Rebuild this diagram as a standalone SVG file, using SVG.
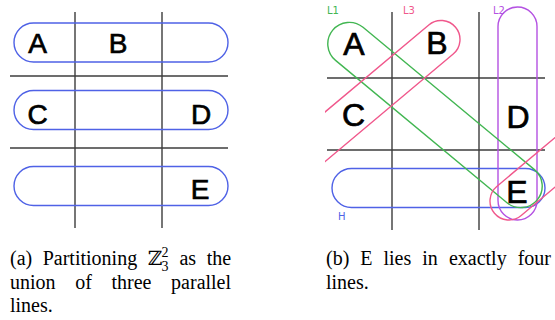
<svg xmlns="http://www.w3.org/2000/svg" width="555" height="320" viewBox="0 0 555 320">
  <style>
    .grid { stroke: #3c3c3c; stroke-width: 1.4; fill: none; }
    .pill { fill: none; stroke-width: 1.4; }
    .blue { stroke: #4f62e6; }
    .green { stroke: #42b652; }
    .pink { stroke: #f0588c; }
    .purple { stroke: #b452e2; }
    .pt { font-family: "Liberation Sans", Arial, sans-serif; fill: #000; stroke: #000; stroke-width: 0.7; text-anchor: middle; }
    .lbl { font-family: "DejaVu Sans", "Liberation Sans", sans-serif; font-size: 10px; }
    .cap { font-family: "Liberation Serif", "DejaVu Serif", serif; font-size: 20px; fill: #000; }
    .math { font-family: "DejaVu Serif", "Liberation Serif", serif; }
    .scr { font-family: "Liberation Serif", serif; font-size: 14px; }
  </style>
  <defs>
    <clipPath id="clipB"><rect x="325" y="0" width="230" height="240"/></clipPath>
  </defs>
  <rect width="555" height="320" fill="#ffffff"/>

  <!-- Panel (a) -->
  <g id="panel-a">
    <g id="grid-a" class="grid">
      <line x1="75" y1="12" x2="75" y2="228"/>
      <line x1="162" y1="12" x2="162" y2="228"/>
      <line x1="10" y1="76" x2="228" y2="76"/>
      <line x1="10" y1="148" x2="228" y2="148"/>
    </g>
    <g id="row1-a"><rect class="pill blue" x="14" y="23" width="214" height="39" rx="19.5"/></g>
    <g id="row2-a"><rect class="pill blue" x="14" y="90.5" width="214" height="39" rx="19.5"/></g>
    <g id="row3-a"><rect class="pill blue" x="14" y="166.5" width="214" height="39" rx="19.5"/></g>
    <g id="pA-a"><text class="pt" x="37.5" y="53" font-size="28">A</text></g>
    <g id="pB-a"><text class="pt" x="118" y="53" font-size="28">B</text></g>
    <g id="pC-a"><text class="pt" x="37.5" y="124" font-size="28">C</text></g>
    <g id="pD-a"><text class="pt" x="201" y="124" font-size="28">D</text></g>
    <g id="pE-a"><text class="pt" x="200" y="199" font-size="28">E</text></g>
  </g>

  <!-- Panel (b) -->
  <g id="panel-b">
    <g id="grid-b" class="grid">
      <line x1="392" y1="12" x2="392" y2="230"/>
      <line x1="479" y1="12" x2="479" y2="230"/>
      <line x1="327" y1="78" x2="545" y2="78"/>
      <line x1="327" y1="150" x2="545" y2="150"/>
    </g>
    <g id="line-H"><rect class="pill blue" x="332" y="168.5" width="213" height="39" rx="19.5"/></g>
    <g id="line-L2"><rect class="pill purple" x="498" y="7" width="39" height="213" rx="19.5"/></g>
    <g id="line-L1"><rect class="pill green" x="-132.9" y="-21.5" width="265.8" height="43" rx="21.5" transform="translate(435,115) rotate(39.7)"/></g>
    <g id="line-L3" clip-path="url(#clipB)">
      <rect class="pill pink" x="-19" y="-19" width="240" height="38" rx="19" transform="translate(441,39.5) rotate(140)"/>
      <rect class="pill pink" x="-19" y="-19" width="150" height="38" rx="19" transform="translate(509,201) rotate(-40)"/>
    </g>
    <g id="pA-b"><text class="pt" x="354" y="55" font-size="32">A</text></g>
    <g id="pB-b"><text class="pt" x="437" y="54" font-size="32">B</text></g>
    <g id="pC-b"><text class="pt" x="353.5" y="126" font-size="32">C</text></g>
    <g id="pD-b"><text class="pt" x="518" y="128" font-size="32">D</text></g>
    <g id="pE-b"><text class="pt" x="517" y="203" font-size="32">E</text></g>
    <g id="labels-b">
      <text class="lbl" x="327" y="14" fill="#42b652">L1</text>
      <text class="lbl" x="403" y="14" fill="#f0588c">L3</text>
      <text class="lbl" x="493" y="14" fill="#b452e2">L2</text>
      <text class="lbl" x="338" y="220" fill="#4f62e6">H</text>
    </g>
  </g>

  <!-- Captions -->
  <g id="caption-a" class="cap">
    <text y="265"><tspan x="10">(a)</tspan><tspan x="42.7">Partitioning</tspan><tspan x="147.8" class="math">ℤ</tspan><tspan x="179.4">as</tspan><tspan x="206.7">the</tspan></text>
    <text class="scr" x="161.5" y="257">2</text>
    <text class="scr" x="161.5" y="271">3</text>
    <text y="289"><tspan x="10">union</tspan><tspan x="75.2">of</tspan><tspan x="111.5">three</tspan><tspan x="171.1">parallel</tspan></text>
    <text x="10" y="312">lines.</text>
  </g>
  <g id="caption-b" class="cap">
    <text y="265"><tspan x="326">(b)</tspan><tspan x="360.3">E</tspan><tspan x="383.5">lies</tspan><tspan x="422.3">in</tspan><tspan x="448.9">exactly</tspan><tspan x="517.7">four</tspan></text>
    <text x="326" y="289">lines.</text>
  </g>
</svg>
